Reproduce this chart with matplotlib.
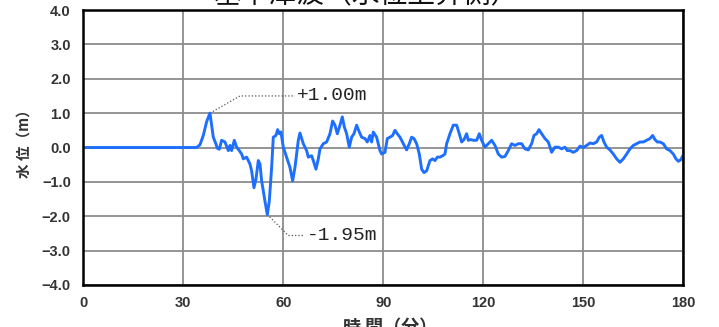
import numpy as np
import matplotlib
matplotlib.use("Agg")
import matplotlib.pyplot as plt

# 時間（分）と水位（m）の時系列
time_min = [
    0, 34, 35, 36, 37, 38, 39, 39.8, 40.2, 40.8, 41.5, 42.5, 43.5, 44, 44.5, 45.3,
    46, 46.8, 47.5, 48, 49, 50, 50.5, 51.2, 51.8, 52.5, 53, 53.5, 54.5, 55.2, 55.8,
    56.5, 57, 57.8, 58.3, 58.8, 59.3, 60, 61, 62, 62.8, 63.5, 64.5, 65, 66, 67, 67.5,
    68.5, 69, 69.8, 70.5, 71, 72, 73, 74, 74.8, 75.5, 76.2, 77, 77.7, 78.3, 79, 79.8,
    80.5, 81.2, 82, 82.8, 83.5, 84.5, 85.2, 86, 86.5, 87, 88, 89, 89.5, 90.5, 91.2,
    92, 92.8, 93.5, 94.2, 95, 96, 97, 97.8, 98.5, 99.2, 100, 100.8, 101.5, 102.2, 103,
    104, 104.8, 105.5, 106.2, 107, 107.8, 108.5, 109, 110, 111, 112, 112.8, 113.5,
    114.2, 115, 115.5, 116.2, 117, 118, 118.8, 119.5, 120.5, 121.5, 122.5, 123.5,
    124.5, 125.5, 126.5, 127.5, 128.5, 129.5, 130.5, 131.5, 132.5, 133.5, 134.5,
    135.2, 136, 136.7, 137.5, 138.5, 139.5, 140.5, 141.5, 142.5, 143.5, 144.5, 145.2,
    146, 147, 148, 149, 150, 151, 152, 153, 154, 154.8, 155.5, 156.2, 157, 158, 159,
    160, 161, 162, 163, 164, 165, 166, 167, 168, 169, 170, 170.8, 171.5, 172.2, 173,
    174, 175, 176, 177, 177.8, 178.5, 179.2, 180,
]
water_level = [
    0.0, 0.0, 0.08, 0.35, 0.75, 1.00, 0.30, 0.10, -0.02, -0.05, 0.21, 0.16, -0.09,
    0.06, -0.09, 0.21, 0.01, -0.09, -0.19, -0.33, -0.28, -0.48, -0.68, -1.17, -0.92,
    -0.38, -0.48, -0.97, -1.56, -1.95, -1.56, -0.58, 0.30, 0.35, 0.52, 0.40, 0.45,
    0.01, -0.28, -0.58, -0.97, -0.58, 0.21, 0.42, 0.11, -0.09, -0.28, -0.24, -0.38,
    -0.63, -0.33, -0.04, 0.11, 0.16, 0.40, 0.77, 0.65, 0.40, 0.65, 0.89, 0.60, 0.40,
    0.01, 0.30, 0.40, 0.65, 0.45, 0.30, 0.26, 0.16, 0.35, 0.16, 0.45, 0.30, -0.09,
    -0.19, -0.14, 0.26, 0.30, 0.35, 0.50, 0.40, 0.30, 0.11, -0.07, 0.11, 0.30, 0.26,
    0.11, -0.19, -0.63, -0.73, -0.68, -0.38, -0.33, -0.38, -0.28, -0.28, -0.24, -0.19,
    0.11, 0.40, 0.65, 0.65, 0.40, 0.16, 0.23, 0.40, 0.21, 0.23, 0.21, 0.21, 0.40, 0.21,
    0.01, 0.11, 0.21, 0.06, -0.19, -0.28, -0.26, -0.09, 0.11, 0.06, 0.11, 0.11, -0.04,
    -0.07, 0.11, 0.35, 0.40, 0.52, 0.40, 0.26, 0.16, -0.14, 0.01, 0.01, -0.04, 0.01,
    -0.09, -0.09, -0.14, -0.09, 0.04, 0.0, 0.06, 0.13, 0.11, 0.16, 0.30, 0.35, 0.16,
    0.01, -0.07, -0.19, -0.33, -0.43, -0.33, -0.19, -0.04, 0.06, 0.11, 0.16, 0.16,
    0.21, 0.26, 0.35, 0.23, 0.16, 0.16, 0.11, -0.04, -0.09, -0.19, -0.33, -0.40, -0.36,
    -0.22,
]

x_ticks = [0, 30, 60, 90, 120, 150, 180]
y_ticks = [4.0, 3.0, 2.0, 1.0, 0.0, -1.0, -2.0, -3.0, -4.0]

title_text = "基準津波（水位上昇側）"
xlabel_text = "時 間（分）"
ylabel_text = "水 位（m）"

jp_font = ["Noto Sans CJK JP", "DejaVu Sans"]

fig = plt.figure(figsize=(7.19, 3.27), dpi=100)
ax = fig.add_axes([83.3 / 719, 1 - 285 / 327, 600 / 719, 275 / 327])

ax.plot(time_min, water_level, color="#1f6fff", linewidth=2.1, zorder=3)

ax.set_xlim(0, 180)
ax.set_ylim(-4, 4)
ax.set_xticks(x_ticks)
ax.set_yticks(y_ticks)
ax.set_yticklabels([f"{v:.1f}".replace("-", "\u2212") for v in y_ticks])
ax.tick_params(length=0, labelsize=10.5, colors="#333333")
ax.tick_params(axis="y", pad=9)
ax.tick_params(axis="x", pad=8)
for lbl in ax.get_xticklabels() + ax.get_yticklabels():
    lbl.set_fontfamily("Liberation Sans")
    lbl.set_fontweight("bold")

ax.grid(True, color="#8c8c8c", linewidth=1.3)
for sp in ax.spines.values():
    sp.set_color("black")
    sp.set_linewidth(1.8)
    sp.set_zorder(4)

# 最大・最小水位の注記
lv = np.array(water_level)
i_max = int(np.argmax(lv))
i_min = int(np.argmin(lv))
t_max, h_max = time_min[i_max], lv[i_max]
t_min, h_min = time_min[i_min], lv[i_min]

ax.plot([t_max, 47.0, 63.5], [h_max, 1.50, 1.50], color="#555555",
        linestyle=":", linewidth=0.9, zorder=2)
ax.text(64.0, 1.50, f"+{h_max:.2f}m", family="Liberation Mono", fontsize=14,
        color="#222222", va="center", ha="left")

ax.plot([t_min, 61.5, 66.5], [h_min, -2.56, -2.56], color="#555555",
        linestyle=":", linewidth=0.9, zorder=2)
ax.text(67.0, -2.56, f"{h_min:.2f}m", family="Liberation Mono", fontsize=14,
        color="#222222", va="center", ha="left")

fig.text(0.508, 1 - 3.5 / 327, title_text, family=jp_font, fontsize=20,
         ha="center", va="baseline", color="#111111")
fig.text(390 / 719, 1 - 318 / 327, xlabel_text, family=jp_font, fontsize=13,
         fontweight="bold", ha="center", va="top", color="#333333")
fig.text(24 / 719, 1 - 140 / 327, ylabel_text, family=jp_font, fontsize=10.5,
         fontweight="bold", rotation=90, ha="center", va="center", color="#333333")

fig.savefig("out.png", dpi=100)
